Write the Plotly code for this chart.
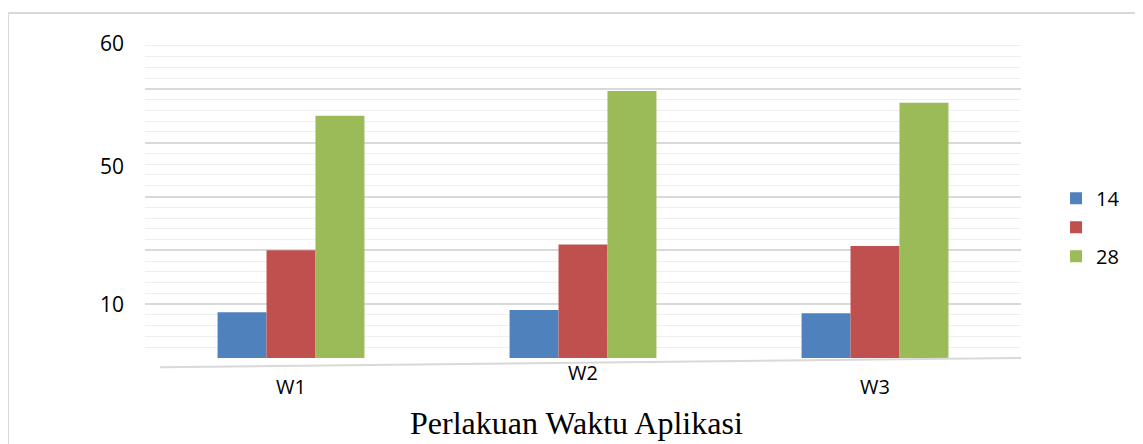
import plotly.graph_objects as go

categories = ["W1", "W2", "W3"]
series_names = ["14", "", "28"]
series_values = [
    [8.5, 8.9, 8.3],
    [20.0, 21.1, 20.8],
    [45.0, 49.6, 47.4],
]
colors = ["#4F81BD", "#C0504D", "#9BBB59"]
ytick_labels = ["60", "50", "10"]
ytick_pos = [58.4, 35.5, 10]
xlabel_shift = [0, 14, 0]

fig = go.Figure()
for name, vals, col in zip(series_names, series_values, colors):
    fig.add_trace(go.Bar(x=categories, y=vals, name=name, marker=dict(color=col, line=dict(width=0))))

fig.add_trace(go.Scatter(x=categories, y=[0, 0, 0], yaxis="y2", mode="markers",
                         marker=dict(opacity=0), showlegend=False, hoverinfo="skip"))

fig.update_layout(
    width=1135, height=436,
    margin=dict(l=137, r=122, t=27, b=86, autoexpand=False),
    paper_bgcolor="white", plot_bgcolor="white",
    barmode="group", bargap=0.497, bargroupgap=0,
    font=dict(family="Open Sans, Liberation Sans, sans-serif", color="#000000"),
    xaxis=dict(showticklabels=False, showgrid=False, zeroline=False, showline=False, ticks="",
               automargin=False),
    yaxis=dict(range=[0, 60], dtick=10, showticklabels=False, showgrid=True,
               gridcolor="#d9d9d9", gridwidth=1.5, zeroline=False, showline=False,
               automargin=False,
               minor=dict(dtick=2, showgrid=True, gridcolor="#efefef", gridwidth=1)),
    yaxis2=dict(range=[0, 60], overlaying="y", side="left", tickvals=ytick_pos,
                ticktext=ytick_labels, showgrid=False, zeroline=False, showline=False,
                ticks="", tickfont=dict(size=21, family="Open Sans, sans-serif"),
                ticklabelstandoff=20, automargin=False),
    legend=dict(x=1.04, y=0.555, xanchor="left", yanchor="top",
                font=dict(size=20, family="Open Sans, sans-serif"),
                itemwidth=30, tracegroupgap=0, bgcolor="rgba(0,0,0,0)"),
    showlegend=True,
)

for cat, sh in zip(categories, xlabel_shift):
    fig.add_annotation(x=cat, xref="x", y=-0.088, yref="paper", text=cat, showarrow=False,
                       yshift=sh, font=dict(size=20, family="Open Sans, sans-serif"),
                       yanchor="middle")

fig.add_annotation(x=0.493, xref="paper", y=-0.202, yref="paper", yanchor="middle",
                   text="Perlakuan Waktu Aplikasi", showarrow=False,
                   font=dict(size=32, family="Liberation Serif, Times New Roman, serif"))

fig.add_shape(type="line", xref="paper", yref="paper", x0=0.017, y0=-0.029, x1=1.0, y1=0.0,
              line=dict(color="#d9d9d9", width=2))
fig.add_shape(type="line", xref="paper", yref="paper", x0=-0.1564, y0=1.068, x1=1.14, y1=1.068,
              line=dict(color="#d9d9d9", width=2))
fig.add_shape(type="line", xref="paper", yref="paper", x0=-0.1564, y0=1.068, x1=-0.1564, y1=-0.3,
              line=dict(color="#d9d9d9", width=2))

fig.write_html("out.html")
